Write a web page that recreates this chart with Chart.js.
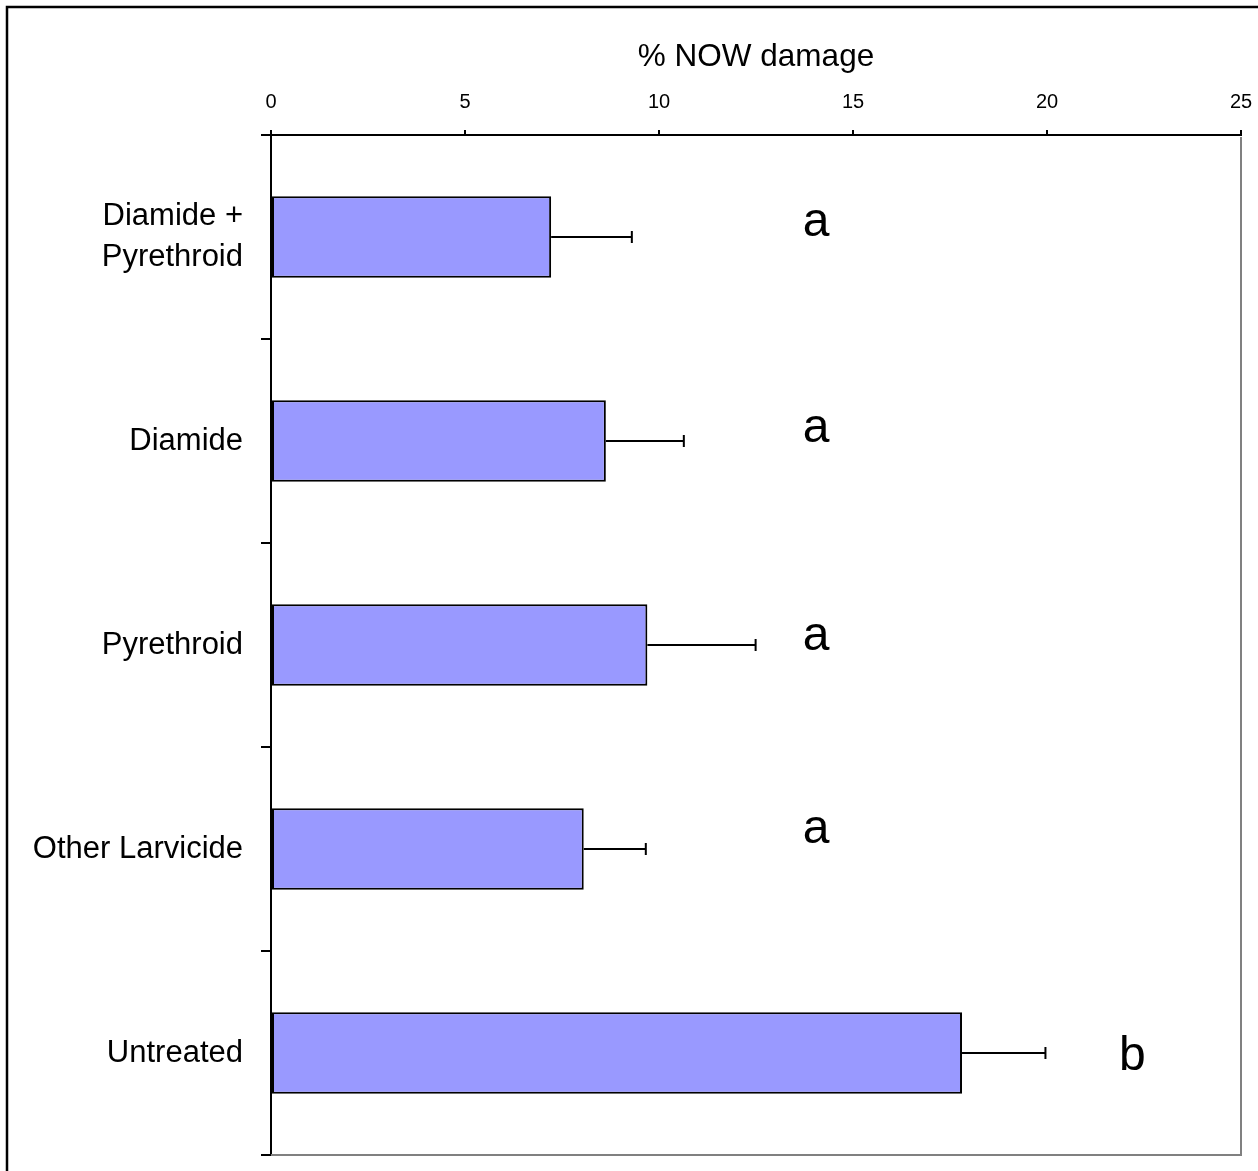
<!DOCTYPE html>
<html>
<head>
<meta charset="utf-8">
<script src="https://cdn.jsdelivr.net/npm/chart.js@4/dist/chart.umd.min.js"></script>
<style>
  html, body { margin: 0; padding: 0; background: #fff; }
  canvas { display: block; }
</style>
</head>
<body>
<canvas id="c" width="1258" height="1171"></canvas>
<script>
// Treatments, mean % NOW damage and standard errors
const treatments = [['Diamide +', 'Pyrethroid'], 'Diamide', 'Pyrethroid', 'Other Larvicide', 'Untreated'];
const damagePct = [7.22, 8.63, 9.70, 8.06, 17.81];
const damageErr = [2.08, 2.01, 2.79, 1.60, 2.15];
const groupLetters = ['a', 'a', 'a', 'a', 'b'];
const xTickValues = [0, 5, 10, 15, 20, 25];

const FONT = '"Liberation Sans", Arial, sans-serif';

// Error bars drawn from each bar end out to mean + SE, with an end cap
const errorBars = {
  id: 'errorBars',
  afterDatasetsDraw(chart) {
    const ctx = chart.ctx;
    const xs = chart.scales.x;
    const meta = chart.getDatasetMeta(0);
    ctx.save();
    ctx.strokeStyle = '#000';
    ctx.lineWidth = 2;
    meta.data.forEach((bar, i) => {
      const x0 = xs.getPixelForValue(damagePct[i]);
      const x1 = xs.getPixelForValue(damagePct[i] + damageErr[i]);
      const y = bar.y;
      ctx.beginPath();
      ctx.moveTo(x0, y);
      ctx.lineTo(x1, y);
      ctx.moveTo(x1, y - 6);
      ctx.lineTo(x1, y + 6);
      ctx.stroke();
    });
    ctx.restore();
  }
};

// Significance letters beside each bar
const letters = {
  id: 'letters',
  afterDatasetsDraw(chart, args, opts) {
    const ctx = chart.ctx;
    const xs = chart.scales.x;
    const ys = chart.scales.y;
    ctx.save();
    ctx.fillStyle = '#000';
    ctx.font = '48px ' + FONT;
    ctx.textAlign = 'center';
    ctx.textBaseline = 'alphabetic';
    groupLetters.forEach((t, i) => {
      const x = xs.getPixelForValue(opts.at[i]);
      const y = ys.getPixelForValue(i) + opts.dy[i];
      ctx.fillText(t, x, y);
    });
    ctx.restore();
  }
};

// Grey right/bottom edges of the plot box and the outer frame
const frame = {
  id: 'frame',
  afterDraw(chart) {
    const ctx = chart.ctx;
    const a = chart.chartArea;
    ctx.save();
    ctx.strokeStyle = '#808080';
    ctx.lineWidth = 2;
    ctx.beginPath();
    ctx.moveTo(a.left, a.bottom);
    ctx.lineTo(a.right, a.bottom);
    ctx.lineTo(a.right, a.top + 2);
    ctx.stroke();
    ctx.strokeStyle = '#000';
    ctx.lineWidth = 2.5;
    ctx.beginPath();
    ctx.moveTo(7, chart.height);
    ctx.lineTo(7, 7);
    ctx.lineTo(chart.width, 7);
    ctx.stroke();
    ctx.restore();
  }
};

function noScalePadding(scale) {
  scale.paddingLeft = 0;
  scale.paddingRight = 0;
  scale.paddingTop = 0;
  scale.paddingBottom = 0;
}

new Chart(document.getElementById('c'), {
  type: 'bar',
  data: {
    labels: treatments,
    datasets: [{
      data: damagePct,
      backgroundColor: '#9999FF',
      borderColor: '#000',
      borderWidth: 2,
      borderSkipped: false,
      barPercentage: 0.4,
      categoryPercentage: 1.0
    }]
  },
  options: {
    indexAxis: 'y',
    responsive: false,
    animation: false,
    layout: { padding: { left: 0, top: 0, right: 17, bottom: 16 } },
    plugins: {
      legend: { display: false },
      tooltip: { enabled: false },
      letters: { at: [14.05, 14.05, 14.05, 14.05, 22.2], dy: [-1, 1, 5, -6, 17] }
    },
    scales: {
      x: {
        position: 'top',
        min: 0,
        max: 25,
        afterBuildTicks(scale) { scale.ticks = xTickValues.map(v => ({ value: v })); },
        afterFit(scale) { scale.height = 135; noScalePadding(scale); },
        ticks: { color: '#000', font: { family: FONT, size: 20 }, padding: 16, maxRotation: 0 },
        grid: { drawOnChartArea: false, drawTicks: true, tickLength: 5, color: '#000', lineWidth: 2 },
        border: { color: '#000', width: 2 },
        title: {
          display: true,
          text: '% NOW damage',
          color: '#000',
          font: { family: FONT, size: 31.5 },
          padding: { top: 38, bottom: 0 }
        }
      },
      y: {
        type: 'category',
        offset: true,
        afterFit(scale) { scale.width = 271; noScalePadding(scale); },
        ticks: { color: '#000', font: { family: FONT, size: 31, lineHeight: 1.3 }, padding: 18 },
        grid: { offset: true, drawOnChartArea: false, drawTicks: true, tickLength: 10, color: '#000', lineWidth: 2 },
        border: { color: '#000', width: 2 }
      }
    }
  },
  plugins: [errorBars, letters, frame]
});
</script>
</body>
</html>
